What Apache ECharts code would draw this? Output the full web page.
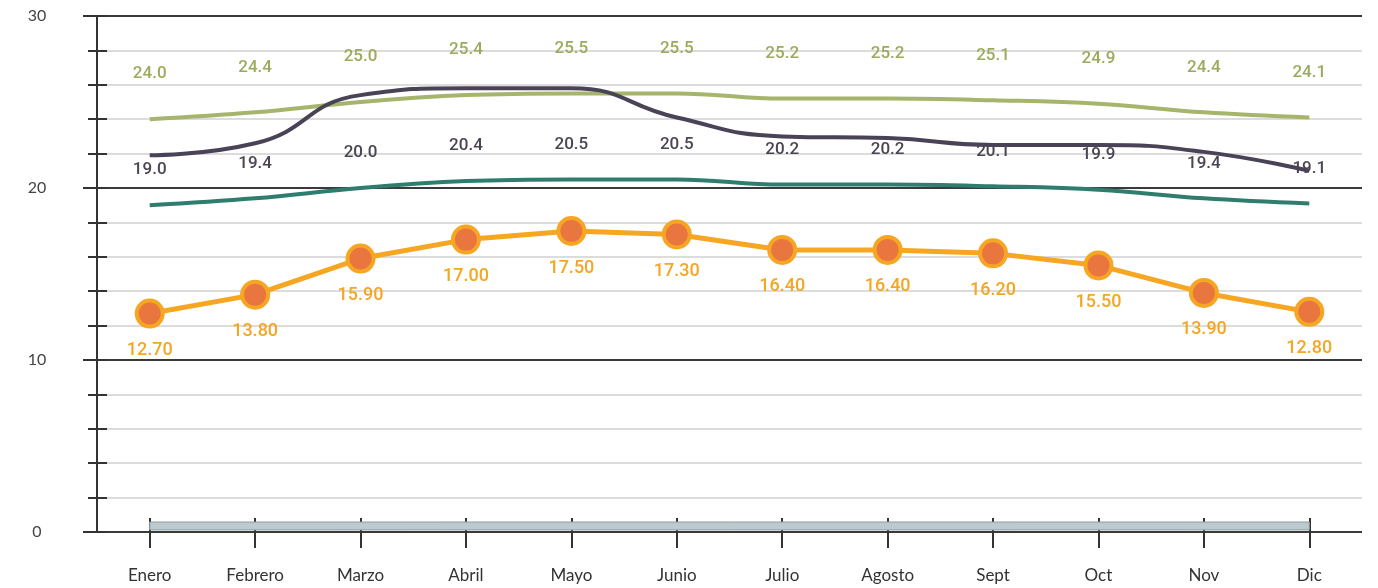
<!DOCTYPE html>
<html>
<head>
<meta charset="utf-8">
<script src="https://cdn.jsdelivr.net/npm/echarts@6/dist/echarts.min.js"></script>
<style>html,body{margin:0;padding:0;background:#fff}#c{width:1378px;height:588px}</style>
</head>
<body>
<div id="c"></div>
<script>
const months = ['Enero','Febrero','Marzo','Abril','Mayo','Junio','Julio','Agosto','Sept','Oct','Nov','Dic'];
const greenVals = [24.0,24.4,25.0,25.4,25.5,25.5,25.2,25.2,25.1,24.9,24.4,24.1];
const tealVals = [19.0,19.4,20.0,20.4,20.5,20.5,20.2,20.2,20.1,19.9,19.4,19.1];
const darkVals = [21.9,22.6,25.4,25.8,25.8,24.1,23.0,22.9,22.5,22.5,22.1,21.0];
const orangeVals = [12.70,13.80,15.90,17.00,17.50,17.30,16.40,16.40,16.20,15.50,13.90,12.80];
const yTickLabels = [0,10,20,30];

const FONT = 'Roboto';
const chart = echarts.init(document.getElementById('c'), null, {renderer:'canvas'});
const minorColors = ['rgba(0,0,0,0)','#dcdcdc','#dcdcdc','#dcdcdc','#dcdcdc'];

chart.setOption({
  animation:false,
  grid:{left:97,right:16,top:16,bottom:56,containLabel:false},
  xAxis:[{
    type:'category', data:months, boundaryGap:true, position:'bottom',
    axisLine:{show:false},
    axisTick:{show:true, alignWithLabel:true, length:16, inside:false, lineStyle:{color:'#333',width:2}},
    axisLabel:{margin:35, fontSize:17, color:'#333', fontFamily:'Lato'},
    splitLine:{show:false}
  },{
    type:'category', data:months, boundaryGap:true, position:'bottom',
    axisLine:{show:false},
    axisTick:{show:true, alignWithLabel:true, length:14, inside:true, lineStyle:{color:'#333',width:2}},
    axisLabel:{show:false},
    splitLine:{show:false}
  }],
  yAxis:[{
    type:'value', min:0, max:30, interval:10, position:'left',
    axisLine:{show:true, lineStyle:{color:'#333',width:2}},
    axisTick:{show:true, length:14, lineStyle:{color:'#333',width:2}},
    axisLabel:{show:true, margin:60, align:'center', fontSize:16, color:'#444', fontFamily:'Lato',
      formatter:v => yTickLabels.indexOf(v) >= 0 ? String(v) : ''},
    splitLine:{show:true, lineStyle:{color:'#3a3a3a',width:2}}
  },{
    type:'value', min:0, max:30, interval:2, position:'left',
    axisLine:{show:false},
    axisTick:{show:true, length:9, lineStyle:{color:'#333',width:2}},
    axisLabel:{show:false},
    splitLine:{show:true, lineStyle:{color:minorColors,width:2}}
  },{
    type:'value', min:0, max:30, interval:2, position:'left',
    axisLine:{show:false},
    axisTick:{show:true, inside:true, length:10, lineStyle:{color:'#333',width:2}},
    axisLabel:{show:false},
    splitLine:{show:false}
  }],
  series:[{
    name:'band', type:'line', data:[], xAxisIndex:0, yAxisIndex:0, silent:true,
    markArea:{silent:true, itemStyle:{color:'#bccacd', borderColor:'#8a9ca1', borderWidth:1},
      data:[[{xAxis:months[0], yAxis:0.12},{xAxis:months[months.length-1], yAxis:0.58}]]}
  },{
    name:'teal', type:'line', data:tealVals, smooth:0.4, symbol:'circle', symbolSize:1, showSymbol:true, z:3,
    lineStyle:{color:'#2f7d6d', width:4},
    itemStyle:{color:'rgba(0,0,0,0)'},
    label:{show:true, position:'top', distance:26, color:'#4a4453', fontSize:17, fontWeight:500, fontFamily:FONT,
      formatter:p => p.value.toFixed(1)}
  },{
    name:'green', type:'line', data:greenVals, smooth:0.4, symbol:'circle', symbolSize:1, z:4,
    lineStyle:{color:'#a5b56c', width:4},
    itemStyle:{color:'rgba(0,0,0,0)'},
    label:{show:true, position:'top', distance:36, color:'#9aab5c', fontSize:17, fontWeight:500, fontFamily:FONT,
      formatter:p => p.value.toFixed(1)}
  },{
    name:'dark', type:'line', data:darkVals, smooth:0.5, showSymbol:false, symbol:'none', z:5,
    lineStyle:{color:'#4a4256', width:4}
  },{
    name:'orange', type:'line', data:orangeVals, smooth:false, symbol:'circle', symbolSize:26, z:6,
    lineStyle:{color:'#f6a623', width:5},
    itemStyle:{color:'#e9763e', borderColor:'#f6a623', borderWidth:4},
    label:{show:true, position:'bottom', distance:13, color:'#f5a623', fontSize:18, fontWeight:500, fontFamily:FONT,
      formatter:p => p.value.toFixed(2)}
  }]
});
</script>
</body>
</html>
